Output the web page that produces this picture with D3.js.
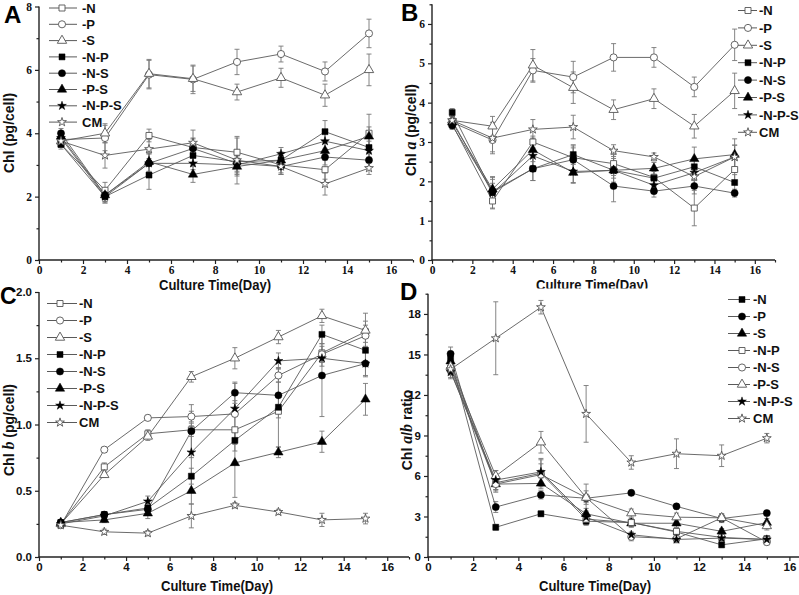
<!DOCTYPE html>
<html><head><meta charset="utf-8">
<script src="https://cdn.jsdelivr.net/npm/d3@7"></script>
<style>body{margin:0;background:#fff}svg{display:block}</style>
</head><body>
<svg id="c" width="799" height="595"></svg>
<script>
// ---------- DATA ----------
const days = [1, 3, 5, 7, 9, 11, 13, 15];
const seriesNames = ["-N", "-P", "-S", "-N-P", "-N-S", "-P-S", "-N-P-S", "CM"];

// Panel A: Chl (pg/cell)
const valsA = [
  [3.65, 2.2, 3.93, 3.55, 3.4, 3.0, 2.85, 4.0],
  [3.8, 3.85, 5.85, 5.7, 6.25, 6.5, 5.95, 7.15],
  [3.75, 4.0, 5.88, 5.72, 5.3, 5.75, 5.2, 6.0],
  [3.65, 2.0, 2.68, 3.3, 3.1, 3.15, 4.05, 3.55],
  [4.0, 2.05, 3.05, 3.52, 3.05, 2.95, 3.25, 3.15],
  [3.9, 2.05, 3.1, 2.7, 2.95, 3.15, 3.45, 3.9],
  [3.85, 2.0, 3.05, 3.05, 3.0, 3.35, 3.75, 3.45],
  [3.75, 3.3, 3.5, 3.7, 3.15, 2.95, 2.4, 2.9]
];
const errA = [
  [0.15, 0.25, 0.2, 0.3, 0.45, 0.3, 0.3, 0.6],
  [0.1, 0.4, 0.45, 0.45, 0.4, 0.25, 0.3, 0.45],
  [0.1, 0.3, 0.45, 0.4, 0.25, 0.3, 0.35, 0.5],
  [0.1, 0.2, 0.45, 0.3, 0.3, 0.25, 0.35, 0.3],
  [0.15, 0.2, 0.3, 0.3, 0.3, 0.2, 0.25, 0.2],
  [0.1, 0.2, 0.3, 0.25, 0.3, 0.25, 0.3, 0.3],
  [0.1, 0.2, 0.3, 0.2, 0.3, 0.2, 0.3, 0.3],
  [0.1, 0.4, 0.3, 0.4, 0.75, 0.25, 0.35, 0.2]
];

// Panel B: Chl a (pg/cell)
const valsB = [
  [3.45, 1.5, 3.0, 2.6, 2.45, 2.1, 1.32, 2.3],
  [3.5, 3.05, 4.82, 4.65, 5.15, 5.15, 4.4, 5.47],
  [3.55, 3.4, 4.95, 4.38, 3.82, 4.1, 3.4, 4.3],
  [3.75, 1.72, 2.32, 2.68, 2.28, 2.08, 2.37, 1.97],
  [3.42, 1.75, 2.32, 2.55, 1.88, 1.75, 1.88, 1.7],
  [3.5, 1.8, 2.8, 2.22, 2.28, 2.33, 2.57, 2.68],
  [3.55, 1.7, 2.65, 2.25, 2.28, 1.9, 2.22, 2.62],
  [3.55, 3.1, 3.32, 3.38, 2.78, 2.62, 2.12, 2.62]
];
const errB = [
  [0.1, 0.2, 0.15, 0.3, 0.3, 0.15, 0.45, 0.3],
  [0.1, 0.3, 0.3, 0.4, 0.35, 0.25, 0.25, 0.4],
  [0.1, 0.25, 0.4, 0.4, 0.25, 0.25, 0.3, 0.45],
  [0.1, 0.4, 0.3, 0.25, 0.4, 0.2, 0.2, 0.2],
  [0.1, 0.3, 0.3, 0.3, 0.4, 0.15, 0.2, 0.1],
  [0.1, 0.3, 0.3, 0.25, 0.3, 0.15, 0.3, 0.4],
  [0.1, 0.25, 0.35, 0.3, 0.2, 0.15, 0.2, 0.3],
  [0.1, 0.4, 0.25, 0.3, 0.15, 0.1, 0.3, 0.3]
];

// Panel C: Chl b (pg/cell)
const valsC = [
  [0.25, 0.68, 0.93, 0.96, 0.96, 1.1, 1.54, 1.7],
  [0.24, 0.81, 1.05, 1.06, 1.08, 1.37, 1.53, 1.67],
  [0.25, 0.62, 0.91, 1.36, 1.5, 1.66, 1.82, 1.71],
  [0.26, 0.32, 0.37, 0.61, 0.88, 1.13, 1.68, 1.56],
  [0.26, 0.32, 0.36, 0.95, 1.24, 1.22, 1.37, 1.46],
  [0.26, 0.28, 0.33, 0.5, 0.71, 0.79, 0.87, 1.19],
  [0.25, 0.31, 0.42, 0.79, 1.12, 1.48, 1.5, 1.46],
  [0.24, 0.19, 0.18, 0.31, 0.39, 0.34, 0.28, 0.29]
];
const errC = [
  [0.02, 0.03, 0.03, 0.05, 0.1, 0.05, 0.07, 0.08],
  [0.02, 0.02, 0.02, 0.04, 0.23, 0.05, 0.06, 0.08],
  [0.02, 0.02, 0.03, 0.04, 0.08, 0.05, 0.05, 0.13],
  [0.02, 0.02, 0.03, 0.06, 0.08, 0.3, 0.07, 0.1],
  [0.02, 0.02, 0.03, 0.2, 0.08, 0.1, 0.31, 0.1],
  [0.02, 0.02, 0.04, 0.1, 0.26, 0.04, 0.08, 0.12],
  [0.02, 0.02, 0.04, 0.2, 0.06, 0.06, 0.06, 0.09],
  [0.02, 0.02, 0.02, 0.09, 0.02, 0.02, 0.05, 0.04]
];

// Panel D: Chl a/b ratio
const valsD = [
  [14.7, 2.2, 3.2, 2.65, 2.55, 1.85, 0.9, 1.35],
  [15.05, 3.7, 4.6, 4.35, 4.75, 3.75, 2.85, 3.25],
  [14.5, 5.4, 5.45, 3.2, 2.5, 2.5, 1.9, 2.55],
  [14.0, 5.5, 6.2, 2.8, 2.55, 1.9, 1.45, 1.3],
  [13.8, 5.4, 6.1, 4.4, 1.5, 1.35, 2.9, 1.1],
  [14.1, 6.0, 8.5, 4.4, 3.25, 2.95, 2.9, 2.3],
  [13.7, 5.7, 6.3, 2.95, 1.65, 1.3, 1.4, 1.3],
  [13.9, 16.2, 18.5, 10.6, 7.0, 7.65, 7.5, 8.8]
];
const errD = [
  [0.5, 0.2, 0.2, 0.3, 0.3, 0.3, 0.2, 0.2],
  [0.5, 0.4, 0.3, 0.3, 0.2, 0.2, 0.3, 0.2],
  [0.5, 0.5, 0.4, 0.4, 0.3, 0.3, 0.2, 0.3],
  [0.5, 0.5, 1.0, 0.4, 0.2, 0.2, 0.2, 0.2],
  [0.5, 0.6, 0.8, 1.0, 0.3, 0.3, 0.3, 0.2],
  [0.6, 0.4, 0.8, 0.5, 0.3, 0.3, 0.3, 0.3],
  [0.5, 0.7, 1.0, 0.3, 0.2, 0.2, 0.2, 0.2],
  [0.4, 2.7, 0.5, 2.1, 0.5, 1.1, 0.8, 0.35]
];

const xTicks = [0, 2, 4, 6, 8, 10, 12, 14, 16];
const xMinor = [1, 3, 5, 7, 9, 11, 13, 15, 17];
const yTicksA = [0, 2, 4, 6, 8];
const yTicksB = [0, 1, 2, 3, 4, 5, 6];
const yTicksC = [0, 0.5, 1.0, 1.5, 2.0];
const yTicksD = [0, 3, 6, 9, 12, 15, 18];

// ---------- DRAW ----------
const svg = d3.select("#c");
const SANS = "'Liberation Sans', Arial, sans-serif";
const SERIF = "'Liberation Serif', 'Times New Roman', serif";
const LINE = "#5a5a5a";

const symABC = ["sqO", "ciO", "trO", "sqF", "ciF", "trF", "stF", "stO"];
const symD = ["sqF", "ciF", "trF", "sqO", "ciO", "trO", "stF", "stO"];
function symGen(k) {
  const t = k.slice(0, 2);
  const type = t === "sq" ? d3.symbolSquare : t === "ci" ? d3.symbolCircle : t === "tr" ? d3.symbolTriangle : d3.symbolStar;
  const size = t === "sq" ? 36 : t === "ci" ? 40 : t === "tr" ? 38 : 24;
  return d3.symbol().type(type).size(size)();
}
function drawSym(g, k, x, y) {
  const filled = k.endsWith("F");
  g.append("path").attr("d", symGen(k))
    .attr("transform", `translate(${x},${y})`)
    .attr("fill", filled ? "#000" : "#fff")
    .attr("stroke", filled ? "#000" : "#555")
    .attr("stroke-width", filled ? 0.5 : 0.9);
}

svg.append("defs").append("clipPath").attr("id", "clipB")
  .append("rect").attr("x", 400).attr("y", 0).attr("width", 399).attr("height", 288.5);

const panels = [
  { id: "A", vals: valsA, err: errA, syms: symABC, xr: [39, 413], yr: [260, 6.5], yd: [0, 8],
    yt: yTicksA, ym: [1, 3, 5, 7], fmt: d => d, font: SERIF, fs: 11.5,
    ytitle: [["Chl (pg/cell)", false]], ytx: 14, yty: 133, xtx: 215, xty: 290,
    letter: [4, 23, 24], leg: { l0: 49, m: 62, l1: 77, tx: 82, y0: 8, dy: 16.3 } },
  { id: "B", vals: valsB, err: errB, syms: symABC, xr: [432, 775], yr: [260, 4.3], yd: [0, 6.5],
    yt: yTicksB, ym: [0.5, 1.5, 2.5, 3.5, 4.5, 5.5, 6.5], fmt: d => d, font: SERIF, fs: 11.5,
    ytitle: [["Chl ", false], ["a", true], [" (pg/cell)", false]], ytx: 416, yty: 130, xtx: 592, xty: 290,
    letter: [401, 21, 24], leg: { l0: 738, m: 748, l1: 757, tx: 759, y0: 10.5, dy: 17.4 }, clip: true },
  { id: "C", vals: valsC, err: errC, syms: symABC, xr: [39, 409], yr: [557, 292], yd: [0, 2],
    yt: yTicksC, ym: [0.25, 0.75, 1.25, 1.75], fmt: d3.format(".1f"), font: SANS, fs: 11.5,
    ytitle: [["Chl ", false], ["b", true], [" (pg/cell)", false]], ytx: 14, yty: 430, xtx: 217, xty: 591,
    letter: [0, 304, 23], leg: { l0: 47, m: 60, l1: 77, tx: 79, y0: 303.5, dy: 17 } },
  { id: "D", vals: valsD, err: errD, syms: symD, xr: [428, 812], yr: [557, 293.7], yd: [0, 19.5],
    yt: yTicksD, ym: [1.5, 4.5, 7.5, 10.5, 13.5, 16.5, 19.5], fmt: d => d, font: SANS, fs: 11.5,
    ytitle: [["Chl ", false], ["a", true], ["/", false], ["b", true], [" ratio", false]], ytx: 412, yty: 430, xtx: 595, xty: 591,
    letter: [400, 300, 24], leg: { l0: 728, m: 742, l1: 750, tx: 753, y0: 299.5, dy: 17 } }
];

panels.forEach(p => {
  const g = svg.append("g");
  const x = d3.scaleLinear().domain([0, 17]).range(p.xr);
  const y = d3.scaleLinear().domain(p.yd).range(p.yr);
  const y0 = p.yr[0];

  // axes
  const ax = g.append("g").attr("transform", `translate(0,${y0})`)
    .call(d3.axisBottom(x).tickValues(xTicks).tickSize(4).tickSizeOuter(0).tickPadding(2));
  const axm = g.append("g").attr("transform", `translate(0,${y0})`)
    .call(d3.axisBottom(x).tickValues(xMinor).tickSize(2.5).tickSizeOuter(0).tickFormat(""));
  const ay = g.append("g").attr("transform", `translate(${p.xr[0]},0)`)
    .call(d3.axisLeft(y).tickValues(p.yt).tickSize(4).tickSizeOuter(0).tickPadding(3).tickFormat(p.fmt));
  const aym = g.append("g").attr("transform", `translate(${p.xr[0]},0)`)
    .call(d3.axisLeft(y).tickValues(p.ym).tickSize(2.5).tickSizeOuter(0).tickFormat(""));
  [ax, axm, ay, aym].forEach(a => {
    a.select(".domain").remove();
    a.selectAll("line").attr("stroke", "#222").attr("stroke-width", 1.2);
    a.selectAll("text").attr("font-family", p.font).attr("font-weight", "bold")
      .attr("font-size", p.fs).attr("fill", "#111");
  });
  g.append("line").attr("x1", p.xr[0] - 0.5).attr("x2", p.xr[1]).attr("y1", y0).attr("y2", y0)
    .attr("stroke", "#222").attr("stroke-width", 1.4);
  g.append("line").attr("x1", p.xr[0]).attr("x2", p.xr[0]).attr("y1", y0).attr("y2", p.yr[1])
    .attr("stroke", "#222").attr("stroke-width", 1.4);

  // error bars
  p.vals.forEach((vs, si) => {
    vs.forEach((v, i) => {
      const e = p.err[si][i];
      const cx = x(days[i]);
      g.append("line").attr("x1", cx).attr("x2", cx).attr("y1", y(v - e)).attr("y2", y(v + e))
        .attr("stroke", "#777").attr("stroke-width", 0.9);
      [v - e, v + e].forEach(w => g.append("line").attr("x1", cx - 2.5).attr("x2", cx + 2.5)
        .attr("y1", y(w)).attr("y2", y(w)).attr("stroke", "#777").attr("stroke-width", 0.9));
    });
  });
  // lines
  const line = d3.line().x((d, i) => x(days[i])).y(d => y(d));
  p.vals.forEach(vs => g.append("path").attr("d", line(vs)).attr("fill", "none")
    .attr("stroke", LINE).attr("stroke-width", 0.9));
  // markers
  p.vals.forEach((vs, si) => vs.forEach((v, i) => drawSym(g, p.syms[si], x(days[i]), y(v))));

  // legend
  const L = p.leg;
  seriesNames.forEach((n, i) => {
    const yy = L.y0 + i * L.dy;
    g.append("line").attr("x1", L.l0).attr("x2", L.l1).attr("y1", yy).attr("y2", yy)
      .attr("stroke", LINE).attr("stroke-width", 1);
    drawSym(g, p.syms[i], L.m, yy);
    g.append("text").attr("x", L.tx).attr("y", yy + 4.6).text(n)
      .attr("font-family", SANS).attr("font-weight", "bold").attr("font-size", 13).attr("fill", "#111");
  });

  // titles
  const xt = g.append("text").attr("x", p.xtx).attr("y", p.xty).attr("text-anchor", "middle")
    .attr("font-family", SANS).attr("font-weight", "bold").attr("font-size", 15).attr("fill", "#111")
    .attr("textLength", 112).attr("lengthAdjust", "spacingAndGlyphs").text("Culture Time(Day)");
  if (p.clip) xt.attr("clip-path", "url(#clipB)");

  const yt = g.append("text").attr("transform", `translate(${p.ytx},${p.yty}) rotate(-90)`)
    .attr("text-anchor", "middle").attr("font-family", SANS).attr("font-weight", "bold")
    .attr("font-size", 14).attr("fill", "#111");
  p.ytitle.forEach(([t, it]) => {
    const ts = yt.append("tspan").text(t);
    if (it) ts.attr("font-family", SERIF).attr("font-style", "italic").attr("font-size", 16);
  });

  g.append("text").attr("x", p.letter[0]).attr("y", p.letter[1]).text(p.id)
    .attr("font-family", SANS).attr("font-weight", "bold").attr("font-size", p.letter[2]).attr("fill", "#000");
});
</script>
</body></html>
